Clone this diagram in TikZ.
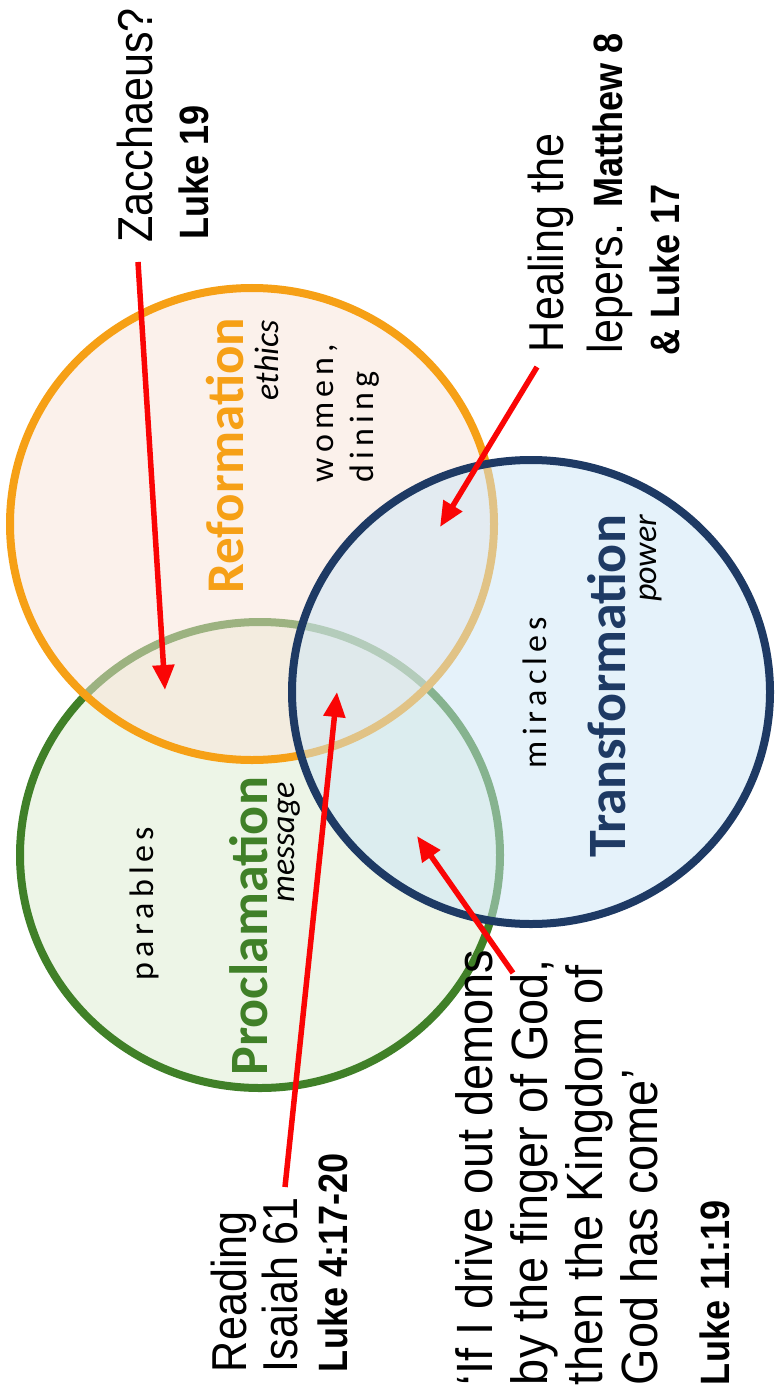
\documentclass[tikz,border=0pt]{standalone}
\usepackage{fontspec}
\setmainfont{Liberation Sans}[FakeStretch=0.88]
\newfontfamily\qfont{Liberation Sans}[FakeStretch=0.92]
\newfontfamily\carl{Carlito}
\usetikzlibrary{arrows.meta}
\definecolor{orng}{RGB}{246,160,22}
\definecolor{grn}{RGB}{64,128,40}
\definecolor{navy}{RGB}{30,58,100}
\definecolor{orngfill}{RGB}{249,229,217}
\definecolor{grnfill}{RGB}{221,237,209}
\definecolor{bluefill}{RGB}{205,231,247}
\definecolor{arrred}{RGB}{250,5,5}
\newcommand\lsp{\kern5pt}
\begin{document}
\begin{tikzpicture}[x=1pt,y=-1pt,
  lab/.style={rotate=90,inner sep=0pt,outer sep=0pt,anchor=base west},
  labr/.style={rotate=90,inner sep=0pt,outer sep=0pt,anchor=base east},
  outer/.style={font=\fontsize{49}{56}\selectfont},
  outerb/.style={font=\fontsize{41}{48}\selectfont\bfseries},
  quote/.style={font=\qfont\fontsize{51}{58}\selectfont},
  title/.style={font=\carl\fontsize{53}{60}\selectfont\bfseries},
  sub/.style={font=\carl\fontsize{34}{40}\selectfont\itshape},
  spaced/.style={font=\carl\fontsize{34}{40}\selectfont},
  ptr/.style={arrred,line width=5.5pt,-{Triangle[length=25pt,width=21pt]}},
  ring/.style={line width=8pt,fill opacity=0.5}]
\useasboundingbox[fill=white] (0,0) rectangle (776,1396);

% circles
\path[ring,draw=grn,fill=grnfill] (260,855) ellipse [x radius=240,y radius=233];
\path[ring,draw=orng,fill=orngfill] (252,524) ellipse [x radius=242,y radius=236];
\path[ring,draw=navy,fill=bluefill] (531,692) ellipse [x radius=239,y radius=232];

% circle labels
\node[labr,title,text=orng] (ref) at (243,318) {Reformation};
\node[labr,sub] (eth) at (278,320) {ethics};
\node[lab,spaced] (wom) at (333,482) {w\lsp o\lsp m\lsp e\lsp n\lsp ,};
\node[lab,spaced] (din) at (373,482) {d\lsp i\lsp n\lsp i\lsp n\lsp g};

\node[labr,title,text=navy,font=\carl\fontsize{54}{60}\selectfont\bfseries] (tra) at (625,515) {Transformation};
\node[labr,sub] (pow) at (656,515) {power};
\node[lab,spaced] (mir) at (546,768) {m\lsp i\lsp r\lsp a\lsp c\lsp l\lsp e\lsp s};

\node[labr,title,text=grn,font=\carl\fontsize{54}{60}\selectfont\bfseries] (pro) at (267,777) {Proclamation};
\node[labr,sub] (mes) at (294,782) {message};
\node[lab,spaced] (par) at (153,980) {p\lsp a\lsp r\lsp a\lsp b\lsp l\lsp e\lsp s};

% outer labels
\node[lab,outer] (zac) at (152,243) {Zacchaeus?};
\node[lab,outerb] (zacref) at (208,240) {Luke 19};

\node[lab,outer] (heal) at (563,352) {Healing the};
\node[lab,outer] (lep) at (622,353) {lepers. {\bfseries\fontsize{41}{48}\selectfont Matthew 8}};
\node[lab,outerb] (lepref) at (679,355) {\& Luke 17};

\node[lab,outer] (rd) at (246,1372) {Reading};
\node[lab,outer] (isa) at (297,1372) {Isaiah 61};
\node[lab,outerb] (rdref) at (347,1372) {Luke 4:17-20};

\node[lab,quote] (q1) at (492,1385) {‘If I drive out demons};
\node[lab,quote] (q2) at (547,1385) {by the finger of God,};
\node[lab,quote] (q3) at (602,1385) {then the Kingdom of};
\node[lab,quote] (q4) at (657,1385) {God has come’};
\node[lab,outerb] (qref) at (729,1385) {Luke 11:19};

% arrows
\coordinate (a1s) at (138,262);
\coordinate (a1e) at (165,690);
\coordinate (a2s) at (537,367);
\coordinate (a2e) at (440,527);
\coordinate (a3s) at (285,1187);
\coordinate (a3e) at (337,692);
\coordinate (a4s) at (513,973);
\coordinate (a4e) at (417,836);
\draw[ptr] (a1s) -- (a1e);
\draw[ptr] (a2s) -- (a2e);
\draw[ptr] (a3s) -- (a3e);
\draw[ptr] (a4s) -- (a4e);
\end{tikzpicture}
\end{document}
